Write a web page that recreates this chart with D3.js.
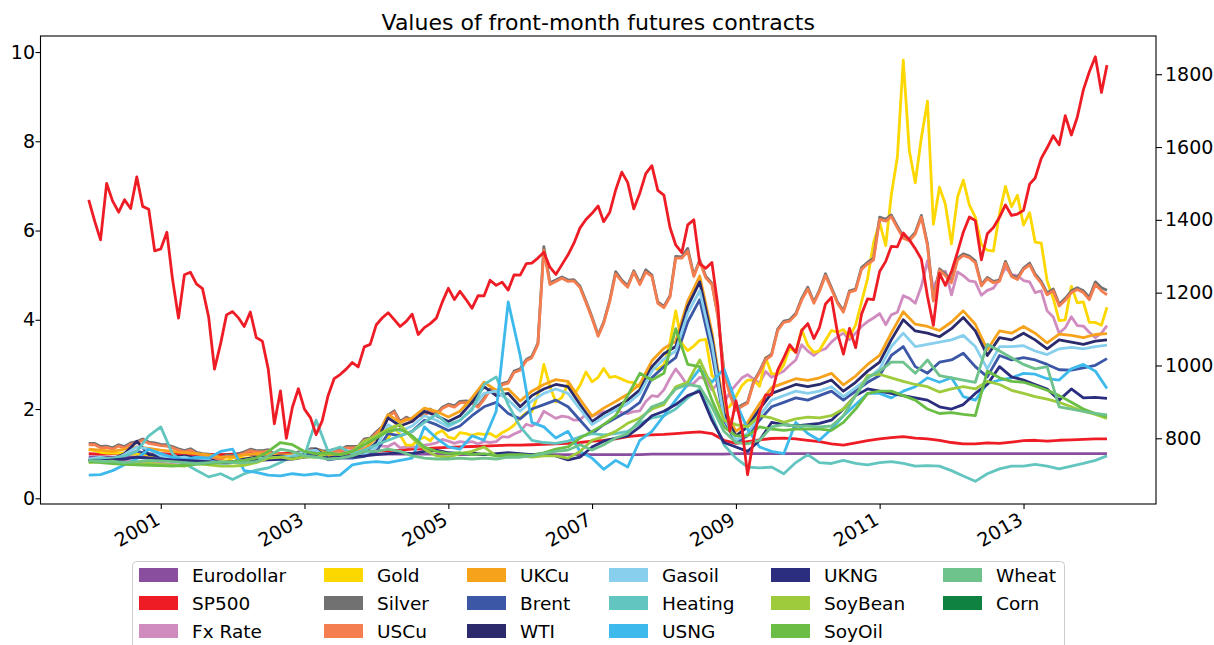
<!DOCTYPE html>
<html>
<head>
<meta charset="utf-8">
<script src="https://cdn.jsdelivr.net/npm/d3@7"></script>
<style>
  body { margin: 0; background: #fff; }
  svg { display: block; font-family: "DejaVu Sans", sans-serif; }
</style>
</head>
<body>
<svg id="chart"></svg>
<script>
// legend order, colours of the original
const seriesNames = ["Eurodollar", "SP500", "Fx Rate", "Gold", "Silver", "USCu", "UKCu", "Brent", "WTI",
  "Gasoil", "Heating", "USNG", "UKNG", "SoyBean", "SoyOil", "Wheat", "Corn"];
const seriesColors = ["#8a4e9f", "#ee1c25", "#d08cbf", "#fdd700", "#717171", "#f57e51", "#f7a21b", "#3b57a6", "#2a2a6c",
  "#87cfec", "#63c5bf", "#3db9ec", "#2b2d7e", "#9dcb3b", "#6abd45", "#6ec28b", "#0f8241"];

const yTicksLeft = [0, 2, 4, 6, 8, 10];
const yTicksRight = [800, 1000, 1200, 1400, 1600, 1800];
const xTickYears = [2001, 2003, 2005, 2007, 2009, 2011, 2013];

// arrays of 171 values are monthly (Jan 2000 .. Mar 2014),
// arrays of 86 values are every two months (Jan, Mar, May, Jul, Sep, Nov)

// SP500 price, right axis
const sp500Price = [
  1455, 1395, 1345, 1500, 1452, 1421, 1455, 1431, 1518, 1437, 1429, 1315,
  1320, 1366, 1240, 1130, 1249, 1256, 1224, 1211, 1134, 990, 1060, 1139,
  1148, 1130, 1107, 1147, 1077, 1067, 990, 840, 930, 800, 886, 936,
  880, 856, 810, 848, 917, 964, 975, 990, 1008, 996, 1051, 1058,
  1112, 1131, 1145, 1126, 1107, 1121, 1141, 1085, 1104, 1115, 1130, 1174,
  1212, 1181, 1204, 1181, 1157, 1192, 1191, 1234, 1220, 1229, 1207, 1249,
  1248, 1280, 1281, 1295, 1311, 1270, 1250, 1277, 1304, 1336, 1378, 1401,
  1418, 1438, 1395, 1421, 1482, 1531, 1503, 1430, 1474, 1527, 1549, 1481,
  1468, 1379, 1331, 1310, 1386, 1400, 1280, 1267, 1283, 1165, 940, 820,
  903, 826, 700, 798, 873, 919, 919, 987, 1021, 1057, 1036, 1096,
  1115, 1074, 1104, 1169, 1187, 1089, 1031, 1102, 1049, 1141, 1183, 1181,
  1258, 1286, 1327, 1326, 1364, 1345, 1321, 1292, 1190, 1110, 1253, 1220,
  1258, 1312, 1366, 1408, 1398, 1290, 1362, 1379, 1407, 1441, 1412, 1416,
  1426, 1498, 1515, 1569, 1598, 1631, 1606, 1686, 1633, 1682, 1757, 1806,
  1848, 1750, 1825
];

const eurodollar = [
  0.93, 0.93, 0.92, 0.93, 0.93, 0.94,
  0.95, 0.96, 0.97, 0.97, 0.97, 0.98,
  0.98, 0.98, 0.98, 0.98, 0.98, 0.99,
  0.99, 0.99, 0.99, 0.99, 0.99, 0.99,
  0.99, 0.99, 0.99, 0.99, 0.99, 0.99,
  0.99, 0.98, 0.98, 0.98, 0.98, 0.98,
  0.98, 0.98, 0.98, 0.98, 0.98, 0.98,
  0.98, 0.98, 0.98, 0.98, 0.98, 0.99,
  0.99, 0.99, 0.99, 0.99, 0.99, 0.99,
  1.00, 1.00, 1.00, 1.00, 1.00, 1.00,
  1.00, 1.00, 1.00, 1.00, 1.00, 1.00,
  1.00, 1.00, 1.00, 1.00, 1.00, 1.00,
  1.00, 1.00, 1.00, 1.00, 1.00, 1.00,
  1.00, 1.00, 1.00, 1.00, 1.00, 1.00,
  1.00, 1.00
];
// the second, flat red trace on the left axis
const sp500Left = [
  1.00, 0.99, 1.00, 1.01, 1.00, 0.99,
  1.00, 0.99, 0.98, 0.99, 0.98, 0.98,
  0.99, 1.00, 1.00, 0.99, 1.00, 1.01,
  1.01, 1.02, 1.03, 1.03, 1.04, 1.05,
  1.06, 1.07, 1.08, 1.10, 1.11, 1.13,
  1.14, 1.15, 1.16, 1.17, 1.18, 1.19,
  1.19, 1.20, 1.21, 1.22, 1.23, 1.25,
  1.28, 1.30, 1.33, 1.38, 1.41, 1.42,
  1.43, 1.45, 1.47, 1.49, 1.45, 1.30,
  1.23, 1.27, 1.31, 1.34, 1.35, 1.33,
  1.30, 1.27, 1.22, 1.19, 1.24, 1.29,
  1.33, 1.36, 1.38, 1.35, 1.33, 1.30,
  1.25, 1.22, 1.22, 1.24, 1.23, 1.26,
  1.29, 1.30, 1.28, 1.30, 1.31, 1.32,
  1.33, 1.33
];
const fxRate = [
  0.84, 0.83, 0.85, 0.82, 0.80, 0.80, 0.85, 0.82, 0.80, 0.79, 0.77, 0.78,
  0.79, 0.77, 0.76, 0.75, 0.77, 0.79, 0.79, 0.78, 0.80, 0.85, 0.82, 0.80,
  0.81, 0.82, 0.86, 0.87, 0.90, 0.95, 0.93, 0.89, 0.91, 0.93, 0.93, 0.93,
  1.01, 1.07, 1.01, 0.97, 0.98, 1.06, 1.01, 1.03, 1.09, 1.12, 1.13, 1.16,
  1.21, 1.17, 1.16, 1.24, 1.13, 1.15, 1.15, 1.14, 1.19, 1.21, 1.24, 1.32,
  1.28, 1.23, 1.27, 1.25, 1.27, 1.22, 1.27, 1.25, 1.27, 1.38, 1.37, 1.44,
  1.50, 1.66, 1.62, 1.70, 1.95, 1.87, 1.79, 1.84, 1.82, 1.75, 1.76, 1.88,
  1.84, 1.90, 1.94, 1.93, 1.98, 1.92, 1.90, 1.94, 1.96, 2.17, 2.30, 2.28,
  2.43, 2.69, 2.90, 2.72, 2.52, 2.58, 2.71, 2.68, 2.43, 2.57, 2.13, 2.38,
  2.54, 2.70, 2.77, 2.67, 2.58, 2.84, 2.71, 2.78, 2.85, 2.98, 3.10, 3.44,
  3.30, 3.20, 3.30, 3.35, 3.50, 3.62, 3.70, 3.55, 3.70, 3.85, 3.96, 4.04,
  4.14, 3.89, 4.11, 4.17, 4.54, 4.48, 4.37, 4.75, 5.32, 4.72, 5.01, 5.09,
  4.56, 5.07, 4.99, 4.87, 4.85, 4.55, 4.66, 4.71, 4.91, 5.17, 5.01, 4.99,
  4.88, 4.85, 4.61, 4.65, 4.20, 4.06, 3.70, 3.82, 4.07, 3.87, 3.86, 3.72,
  3.60, 3.70, 3.87
];
const gold = [
  1.09, 1.07, 1.03, 1.01, 1.01, 1.01, 1.01, 0.99, 0.99, 0.99, 0.97, 0.95,
  0.93, 0.93, 0.91, 0.89, 0.87, 0.89, 0.89, 0.87, 0.85, 0.85, 0.87, 0.83,
  0.91, 0.91, 0.89, 0.91, 0.93, 0.99, 0.99, 0.97, 0.93, 0.93, 0.91, 0.91,
  0.95, 0.97, 0.95, 0.91, 0.93, 0.93, 0.91, 1.01, 1.01, 1.05, 1.01, 1.05,
  1.17, 1.27, 1.33, 1.62, 1.41, 1.19, 1.19, 1.31, 1.37, 1.29, 1.45, 1.52,
  1.37, 1.33, 1.47, 1.45, 1.41, 1.45, 1.43, 1.45, 1.37, 1.47, 1.54, 1.64,
  1.80, 1.92, 1.94, 2.32, 3.00, 2.51, 2.16, 2.26, 2.57, 2.32, 2.53, 2.83,
  2.61, 2.71, 2.91, 2.71, 2.73, 2.67, 2.61, 2.59, 2.48, 2.81, 2.93, 2.89,
  2.99, 3.49, 4.20, 3.47, 3.31, 3.41, 3.54, 3.56, 2.75, 2.61, 1.98, 2.06,
  2.28, 2.53, 2.65, 2.65, 2.51, 3.15, 2.79, 2.79, 2.99, 3.37, 3.27, 3.78,
  3.43, 3.27, 3.31, 3.54, 3.76, 3.72, 3.78, 3.62, 3.88, 4.40, 4.93, 5.72,
  6.18, 5.66, 6.79, 7.64, 9.82, 7.78, 7.07, 8.08, 8.90, 6.14, 6.97, 6.59,
  5.70, 6.75, 7.13, 6.57, 6.30, 5.68, 5.56, 5.54, 6.38, 6.99, 6.53, 6.79,
  6.12, 6.40, 5.74, 5.72, 4.87, 4.48, 3.98, 4.00, 4.75, 4.38, 4.40, 3.94,
  3.94, 3.88, 4.28
];
const silver = [
  1.23, 1.23, 1.16, 1.17, 1.13, 1.20, 1.16, 1.24, 1.27, 1.33, 1.26, 1.24,
  1.21, 1.20, 1.16, 1.11, 1.07, 1.11, 1.03, 1.00, 0.99, 0.93, 0.90, 0.97,
  0.96, 1.00, 1.04, 1.10, 1.07, 1.07, 1.09, 0.99, 0.97, 0.97, 0.99, 1.04,
  1.03, 1.11, 1.11, 1.07, 1.06, 1.10, 1.09, 1.16, 1.16, 1.17, 1.33, 1.35,
  1.49, 1.61, 1.87, 1.96, 1.72, 1.82, 1.75, 1.89, 1.88, 2.00, 1.89, 2.04,
  2.11, 2.07, 2.17, 2.18, 2.16, 2.07, 2.24, 2.45, 2.35, 2.57, 2.61, 2.85,
  2.90, 3.11, 3.18, 3.48, 5.64, 4.83, 4.89, 4.96, 4.89, 4.90, 4.75, 4.42,
  4.06, 3.66, 3.95, 4.44, 5.08, 4.89, 4.76, 5.10, 4.82, 5.12, 5.00, 4.40,
  4.30, 4.54, 5.42, 5.41, 5.60, 5.00, 5.34, 4.97, 4.82, 4.11, 2.85, 2.35,
  2.00, 2.09, 2.16, 2.62, 2.85, 3.14, 3.23, 3.79, 3.97, 4.00, 4.14, 4.48,
  4.73, 4.40, 4.66, 5.03, 4.72, 4.40, 4.20, 4.65, 4.69, 5.17, 5.29, 5.38,
  6.30, 6.25, 6.35, 6.10, 5.87, 5.81, 5.96, 6.34, 5.70, 4.45, 5.14, 5.03,
  4.87, 5.38, 5.48, 5.43, 5.32, 4.79, 4.95, 4.86, 4.89, 5.31, 5.00, 4.94,
  5.16, 5.27, 5.03, 4.86, 4.60, 4.69, 4.35, 4.48, 4.65, 4.72, 4.65, 4.50,
  4.85, 4.72, 4.66
];
const usCu = [
  1.20, 1.20, 1.13, 1.14, 1.10, 1.17, 1.13, 1.21, 1.24, 1.30, 1.23, 1.21,
  1.18, 1.17, 1.13, 1.08, 1.04, 1.08, 1.00, 0.97, 0.96, 0.90, 0.87, 0.94,
  0.93, 0.97, 1.01, 1.07, 1.04, 1.04, 1.06, 0.96, 0.94, 0.94, 0.96, 1.01,
  1.00, 1.08, 1.08, 1.04, 1.03, 1.07, 1.06, 1.13, 1.13, 1.14, 1.30, 1.32,
  1.46, 1.58, 1.83, 1.93, 1.69, 1.79, 1.72, 1.86, 1.85, 1.97, 1.86, 2.01,
  2.08, 2.04, 2.14, 2.15, 2.13, 2.04, 2.21, 2.42, 2.32, 2.54, 2.58, 2.82,
  2.87, 3.08, 3.15, 3.45, 5.56, 4.79, 4.86, 4.93, 4.86, 4.87, 4.72, 4.39,
  4.03, 3.63, 3.92, 4.41, 5.03, 4.86, 4.73, 5.07, 4.79, 5.07, 4.97, 4.37,
  4.27, 4.51, 5.38, 5.38, 5.54, 4.97, 5.31, 4.94, 4.79, 4.08, 2.82, 2.32,
  1.97, 2.06, 2.13, 2.59, 2.82, 3.11, 3.20, 3.76, 3.94, 3.97, 4.11, 4.44,
  4.69, 4.37, 4.63, 4.99, 4.69, 4.37, 4.17, 4.62, 4.66, 5.13, 5.25, 5.34,
  6.25, 6.21, 6.31, 6.06, 5.83, 5.77, 5.92, 6.30, 5.66, 4.42, 5.11, 4.99,
  4.83, 5.34, 5.44, 5.39, 5.28, 4.76, 4.92, 4.83, 4.86, 5.27, 4.97, 4.90,
  5.13, 5.23, 4.99, 4.82, 4.56, 4.65, 4.31, 4.44, 4.61, 4.68, 4.61, 4.45,
  4.79, 4.65, 4.56
];
const ukCu = [
  1.10, 1.08, 1.05, 1.10, 1.15, 1.12,
  1.08, 1.05, 1.02, 1.00, 0.97, 0.92,
  0.93, 0.97, 1.00, 0.99, 0.97, 0.98,
  1.03, 1.10, 0.98, 1.00, 1.03, 1.10,
  1.35, 1.88, 1.70, 1.80, 2.02, 1.95,
  1.82, 1.95, 2.25, 2.60, 2.42, 2.45,
  2.18, 2.40, 2.55, 2.66, 2.62, 2.22,
  1.84, 2.02, 2.17, 2.33, 2.56, 3.08,
  3.36, 3.52, 4.42, 4.98, 3.72, 2.02,
  1.50, 1.70, 2.12, 2.48, 2.58, 2.68,
  2.64, 2.70, 2.80, 2.54, 2.74, 3.00,
  3.20, 3.70, 4.18, 3.90, 3.85, 3.76,
  3.95, 4.20, 3.90, 3.33, 3.75, 3.70,
  3.85, 3.70, 3.48, 3.68, 3.65, 3.60,
  3.67, 3.69
];
const brent = [
  0.86, 0.90, 0.88, 0.95, 1.05, 1.00,
  0.92, 0.88, 0.90, 0.86, 0.84, 0.78,
  0.80, 0.84, 0.88, 0.88, 0.90, 0.90,
  0.98, 1.02, 0.86, 0.90, 0.90, 0.94,
  1.05, 1.45, 1.40, 1.50, 1.75, 1.65,
  1.52, 1.62, 1.85, 2.05, 2.15, 1.90,
  1.78, 2.00, 2.10, 2.20, 2.05, 1.75,
  1.45, 1.65, 1.80, 1.95, 2.15, 2.70,
  2.95, 3.15, 3.95, 4.45, 3.25, 1.75,
  1.25, 1.40, 1.75, 2.05, 2.15, 2.25,
  2.20, 2.30, 2.40, 2.20, 2.40, 2.60,
  2.75, 3.20, 3.40, 2.95, 2.80, 3.05,
  3.10, 3.25, 2.95, 2.72, 3.20, 3.10,
  3.15, 3.10, 3.00, 2.88, 2.87, 2.92,
  2.98, 3.13
];
const wti = [
  0.85, 0.90, 0.88, 1.00, 1.28, 0.98,
  0.95, 0.92, 0.95, 0.90, 0.88, 0.80,
  0.82, 0.88, 0.92, 0.92, 0.95, 0.93,
  1.02, 1.10, 0.90, 0.95, 0.95, 1.00,
  1.25, 1.80, 1.62, 1.72, 1.95, 1.85,
  1.72, 1.85, 2.15, 2.50, 2.30, 2.35,
  2.05, 2.30, 2.45, 2.55, 2.50, 2.10,
  1.72, 1.90, 2.05, 2.20, 2.43, 2.95,
  3.24, 3.40, 4.30, 4.85, 3.60, 1.90,
  1.40, 1.60, 2.00, 2.35, 2.45, 2.55,
  2.50, 2.55, 2.65, 2.40, 2.60, 2.85,
  3.05, 3.55, 4.00, 3.75, 3.70, 3.62,
  3.80, 4.05, 3.75, 3.20, 3.60, 3.55,
  3.70, 3.55, 3.35, 3.55, 3.50, 3.45,
  3.52, 3.55
];
const gasoil = [
  0.88, 0.92, 0.86, 0.98, 1.15, 1.10,
  0.95, 0.90, 0.92, 0.87, 0.85, 0.78,
  0.80, 0.85, 0.90, 0.90, 0.92, 0.95,
  1.05, 1.08, 0.88, 0.92, 0.93, 0.98,
  1.15, 1.65, 1.50, 1.62, 1.85, 1.75,
  1.60, 1.75, 2.02, 2.35, 2.40, 2.20,
  1.95, 2.18, 2.35, 2.45, 2.35, 2.00,
  1.65, 1.82, 1.98, 2.12, 2.35, 2.85,
  3.12, 3.30, 4.15, 4.65, 3.45, 1.80,
  1.30, 1.45, 1.85, 2.20, 2.30, 2.40,
  2.35, 2.40, 2.50, 2.28, 2.48, 2.68,
  2.90, 3.40, 3.70, 3.40, 3.45, 3.50,
  3.55, 3.65, 3.40, 2.90, 3.40, 3.40,
  3.42, 3.30, 3.22, 3.35, 3.38, 3.35,
  3.40, 3.43
];
const heating = [
  0.85, 0.88, 0.90, 0.95, 1.05, 1.40,
  1.60, 1.00, 0.78, 0.63, 0.48, 0.55,
  0.42, 0.55, 0.63, 0.68, 0.80, 0.93,
  0.95, 1.75, 1.05, 1.15, 1.00, 1.08,
  1.20, 1.30, 1.40, 1.50, 1.70, 1.88,
  1.65, 1.75, 1.98, 2.55, 2.72, 2.10,
  1.60, 1.30, 1.25, 1.23, 1.28, 1.38,
  1.45, 1.42, 1.45, 1.50, 1.68, 1.80,
  1.85, 2.00, 2.25, 2.45, 1.85, 1.20,
  0.90, 0.70, 0.68, 0.70, 0.55, 0.80,
  0.98, 0.80, 0.78, 0.85, 0.78, 0.75,
  0.80, 0.82, 0.78, 0.72, 0.73, 0.72,
  0.62, 0.50, 0.38, 0.55, 0.66, 0.72,
  0.72, 0.76, 0.72, 0.66, 0.72, 0.78,
  0.85, 0.95
];
const usng = [
  0.52, 0.53, 0.62, 0.75, 0.88, 1.10,
  1.00, 0.92, 0.86, 0.92, 0.90, 1.05,
  1.10, 0.62, 0.58, 0.52, 0.50, 0.55,
  0.52, 0.55, 0.50, 0.52, 0.75, 0.80,
  0.82, 0.80, 0.85, 0.90, 1.60, 1.35,
  1.15, 1.10, 1.40, 1.30, 1.95, 4.40,
  3.20, 1.70, 1.60, 1.35, 1.50, 1.05,
  0.90, 0.65, 0.85, 0.70, 1.30, 1.50,
  1.85, 2.20, 2.55, 2.90, 2.60, 2.90,
  2.15, 1.55, 1.15, 1.05, 1.00, 1.70,
  1.45, 1.30, 1.55, 1.85, 2.10, 2.35,
  2.35, 2.25, 2.40, 2.50, 2.70, 2.60,
  2.70, 2.28, 2.20, 2.57, 2.65, 2.70,
  2.80, 2.78, 2.68, 2.65, 2.90, 3.00,
  2.85, 2.46
];
const ukng = [
  0.85, 0.84, 0.86, 0.88, 0.92, 0.90,
  0.88, 0.86, 0.85, 0.84, 0.82, 0.80,
  0.80, 0.82, 0.85, 0.86, 0.87, 0.88,
  0.92, 0.95, 0.90, 0.92, 0.93, 0.95,
  0.98, 1.00, 1.02, 1.00, 1.05, 1.08,
  1.02, 1.00, 1.02, 0.98, 1.00, 1.02,
  1.00, 0.98, 1.00, 0.95, 0.86, 0.92,
  1.15, 1.28, 1.35, 1.40, 1.60, 1.85,
  1.95, 2.10, 2.30, 2.40, 1.75, 1.25,
  1.15, 1.05, 1.30, 1.70, 1.65, 1.62,
  1.65, 1.68, 1.75, 2.00, 2.30, 2.45,
  2.40, 2.35, 2.30, 2.25, 2.20, 2.05,
  2.00, 2.10, 2.35, 2.55, 2.95, 2.72,
  2.65, 2.55, 2.45, 2.20, 2.45, 2.25,
  2.26, 2.24
];
const soyBean = [
  0.80, 0.82, 0.83, 0.78, 0.76, 0.78,
  0.76, 0.74, 0.72, 0.78, 0.75, 0.72,
  0.72, 0.74, 0.80, 0.90, 0.92, 0.88,
  0.93, 0.92, 1.00, 0.98, 1.05, 1.28,
  1.40, 1.55, 1.65, 1.35, 1.10, 0.95,
  0.92, 1.00, 1.05, 1.15, 0.95, 0.92,
  0.95, 0.92, 0.95, 0.95, 0.90, 1.05,
  1.30, 1.38, 1.50, 1.68, 1.80, 2.00,
  2.10, 2.50, 2.60, 3.10, 2.50, 1.75,
  1.65, 1.60, 1.85, 1.80, 1.70, 1.78,
  1.82, 1.80, 1.85, 2.00, 2.30, 2.75,
  2.78, 2.70, 2.62, 2.55, 2.50, 2.38,
  2.45, 2.50, 2.45, 2.62, 2.55, 2.42,
  2.35, 2.28, 2.22, 2.15, 2.05, 1.95,
  1.88, 1.79
];
const soyOil = [
  0.82, 0.80, 0.78, 0.76, 0.75, 0.74,
  0.73, 0.72, 0.74, 0.76, 0.78, 0.80,
  0.82, 0.85, 0.90, 1.05, 1.25, 1.20,
  1.05, 1.00, 1.02, 0.98, 1.05, 1.20,
  1.35, 1.50, 1.55, 1.40, 1.15, 1.05,
  1.00, 1.02, 0.98, 1.00, 0.95, 0.98,
  0.98, 0.96, 1.02, 1.10, 1.15, 1.35,
  1.50, 1.65, 1.85, 2.30, 2.80, 2.65,
  2.80, 3.80, 3.00, 2.95, 2.20, 1.60,
  1.40, 1.40, 1.60, 1.55, 1.52, 1.55,
  1.55, 1.55, 1.52, 1.70, 2.00, 2.35,
  2.40, 2.40, 2.30, 2.20, 2.00, 1.90,
  1.92, 1.88, 1.85, 2.85, 2.70, 2.62,
  2.60, 2.52, 2.42, 2.30, 2.15, 2.00,
  1.90, 1.83
];
const wheat = [
  0.85, 0.83, 0.82, 0.80, 0.82, 0.85,
  0.84, 0.82, 0.80, 0.78, 0.80, 0.82,
  0.80, 0.80, 0.82, 0.95, 1.10, 1.05,
  0.95, 0.92, 0.88, 0.90, 0.95, 1.05,
  1.05, 1.10, 1.05, 0.95, 0.90, 0.88,
  0.88, 0.90, 0.88, 0.90, 0.88, 0.92,
  0.92, 0.95, 1.00, 1.05, 1.08, 1.20,
  1.08, 1.20, 1.35, 1.45, 1.75, 2.05,
  2.15, 2.45, 2.55, 2.50, 2.05, 1.50,
  1.25, 1.22, 1.30, 1.60, 1.65, 1.62,
  1.62, 1.60, 1.62, 1.85, 2.30, 2.70,
  2.85, 3.05, 3.05, 2.80, 3.10, 2.75,
  2.70, 2.65, 2.60, 3.45, 3.30, 3.15,
  3.00, 2.90, 2.95, 2.05, 2.00, 1.95,
  1.90, 1.87
];
const corn = []; // no corn trace shows in the reference

const leftSeries = [eurodollar, sp500Left, fxRate, gold, silver, usCu, ukCu, brent, wti,
  gasoil, heating, usng, ukng, soyBean, soyOil, wheat, corn];

class FuturesChart {
  constructor(_config) {
    this.config = {
      parentElement: _config.parentElement,
      containerWidth: _config.containerWidth || 1214,
      containerHeight: _config.containerHeight || 645,
      margin: _config.margin || {top: 36, right: 58, bottom: 141, left: 40.5}
    };
    this.initVis();
  }

  initVis() {
    let vis = this;
    const m = vis.config.margin;
    vis.width = vis.config.containerWidth - m.left - m.right;
    vis.height = vis.config.containerHeight - m.top - m.bottom;

    vis.xScale = d3.scaleTime()
        .domain([new Date(1999, 4, 1), new Date(2014, 10, 5)])
        .range([0, vis.width]);
    vis.yScale = d3.scaleLinear()
        .domain([-0.128, 10.359])
        .range([vis.height, 0]);
    vis.yScaleRight = d3.scaleLinear()
        .domain([619.5, 1905])
        .range([vis.height, 0]);

    vis.svg = d3.select(vis.config.parentElement)
        .attr('width', vis.config.containerWidth)
        .attr('height', vis.config.containerHeight);

    vis.svg.append('defs').append('clipPath').attr('id', 'plot-clip')
      .append('rect').attr('width', vis.width).attr('height', vis.height);

    vis.chart = vis.svg.append('g')
        .attr('transform', `translate(${m.left},${m.top})`);

    vis.svg.append('text')
        .attr('x', m.left + vis.width / 2)
        .attr('y', 30)
        .attr('text-anchor', 'middle')
        .style('font-size', '22px')
        .text('Values of front-month futures contracts');

    this.updateVis();
  }

  updateVis() {
    let vis = this;
    const monthly = d3.range(171).map(i => new Date(2000, i, 1));
    const bimonthly = d3.range(86).map(k => new Date(2000, 2 * k, 1));
    const datesFor = arr => arr.length === monthly.length ? monthly : bimonthly;

    vis.leftLines = seriesNames.map((name, i) => ({
      name: name,
      color: seriesColors[i],
      values: leftSeries[i].map((v, k) => ({date: datesFor(leftSeries[i])[k], value: v}))
    }));
    vis.rightLine = sp500Price.map((v, i) => ({date: monthly[i], value: v}));

    vis.renderVis();
  }

  renderVis() {
    let vis = this;

    const plot = vis.chart.append('g').attr('clip-path', 'url(#plot-clip)');
    const lineLeft = d3.line()
        .x(d => vis.xScale(d.date))
        .y(d => vis.yScale(d.value));
    const lineRight = d3.line()
        .x(d => vis.xScale(d.date))
        .y(d => vis.yScaleRight(d.value));

    plot.selectAll('.series')
      .data(vis.leftLines.filter(s => s.values.length))
      .join('path')
        .attr('class', 'series')
        .attr('fill', 'none')
        .attr('stroke', d => d.color)
        .attr('stroke-width', 2.8)
        .attr('stroke-linejoin', 'round')
        .attr('d', d => lineLeft(d.values));

    plot.append('path')
        .datum(vis.rightLine)
        .attr('fill', 'none')
        .attr('stroke', seriesColors[1])
        .attr('stroke-width', 2.8)
        .attr('stroke-linejoin', 'round')
        .attr('d', lineRight);

    // axes
    const xAxis = d3.axisBottom(vis.xScale)
        .tickValues(xTickYears.map(y => new Date(y, 0, 1)))
        .tickFormat(d3.timeFormat('%Y'))
        .tickSize(5).tickPadding(3);
    const yAxis = d3.axisLeft(vis.yScale)
        .tickValues(yTicksLeft).tickSize(5).tickPadding(0.5);
    const yAxisRight = d3.axisRight(vis.yScaleRight)
        .tickValues(yTicksRight).tickFormat(d3.format('d'))
        .tickSize(6).tickPadding(3);

    const gx = vis.chart.append('g')
        .attr('transform', `translate(0,${vis.height})`)
        .call(xAxis);
    gx.selectAll('text')
        .attr('y', 0).attr('dy', '0.75em')
        .attr('text-anchor', 'end')
        .attr('transform', 'translate(-7,7) rotate(-30)');

    const gy = vis.chart.append('g').call(yAxis);
    const gyr = vis.chart.append('g')
        .attr('transform', `translate(${vis.width},0)`)
        .call(yAxisRight);

    [gx, gy, gyr].forEach(g => {
      g.select('.domain').remove();
      g.selectAll('text').style('font-size', '19px').attr('fill', '#000')
        .style('font-family', '"DejaVu Sans", sans-serif');
      g.selectAll('line').attr('stroke', '#000').attr('stroke-width', 1.1);
    });

    vis.chart.append('rect')
        .attr('width', vis.width).attr('height', vis.height)
        .attr('fill', 'none').attr('stroke', '#000').attr('stroke-width', 1.1);

    // legend, 3 rows in 6 columns
    const colX = [139, 324, 467, 609, 771, 943];
    const rowY = [575, 603, 631];
    const legend = vis.svg.append('g');
    legend.append('rect')
        .attr('x', 132.5).attr('y', 561.5).attr('width', 932).attr('height', 95)
        .attr('rx', 4).attr('fill', '#fff').attr('stroke', '#cccccc');
    const items = legend.selectAll('.item')
      .data(seriesNames.map((n, i) => ({name: n, color: seriesColors[i], col: Math.floor(i / 3), row: i % 3})))
      .join('g')
        .attr('class', 'item')
        .attr('transform', d => `translate(${colX[d.col]},${rowY[d.row]})`);
    items.append('rect')
        .attr('x', 0).attr('y', -7).attr('width', 39).attr('height', 14)
        .attr('fill', d => d.color);
    items.append('text')
        .attr('x', 53).attr('dy', '0.36em')
        .style('font-size', '18.5px')
        .text(d => d.name);
  }
}

new FuturesChart({parentElement: '#chart'});
</script>
</body>
</html>
